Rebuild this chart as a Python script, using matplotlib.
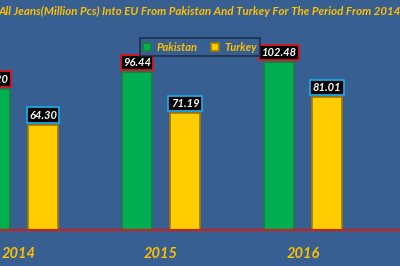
import matplotlib.pyplot as plt
import numpy as np

years = ["2014", "2015", "2016"]
pakistan = [86.20, 96.44, 102.48]
turkey = [64.30, 71.19, 81.01]

bg = "#375F91"
gold = "#FFC000"

fig = plt.figure(figsize=(4, 2.66), dpi=100, facecolor=bg)
ax = fig.add_axes([0, 0.135, 1, 0.865], facecolor=bg)

x = np.arange(len(years))
w = 0.211
off = 0.169
b1 = ax.bar(x - off, pakistan, w, color="#00B050", edgecolor="#1E7A45", linewidth=1.2, label="Pakistan")
b2 = ax.bar(x + off, turkey, w, color="#FFCC00", edgecolor="#A07A00", linewidth=1.2, label="Turkey")

# value labels: black boxes, red border for Pakistan, blue for Turkey
for bars, vals, ec in [(b1, pakistan, "#E0141E"), (b2, turkey, "#1BA6E0")]:
    for r, v in zip(bars, vals):
        ax.annotate(f"{v:.2f}", (r.get_x() + r.get_width() / 2, v), xytext=(0, 3),
                    textcoords="offset points", ha="center", va="bottom",
                    color="white", fontsize=8, fontweight="bold", fontstyle="italic",
                    family="Lato", annotation_clip=False,
                    bbox=dict(boxstyle="square,pad=0.2", fc="black", ec=ec, lw=1.3))

ax.set_xlim(-0.134, 2.683)
ax.set_ylim(0, 140.4)
ax.set_yticks([])
ax.set_xticks(x)
ax.set_xticklabels(years, color=gold, fontsize=10.5, fontweight="bold", fontstyle="italic", family="Lato")
ax.tick_params(axis="x", length=0, pad=12)
for s in ["top", "left", "right"]:
    ax.spines[s].set_visible(False)
ax.spines["bottom"].set_color("#D0201A")
ax.spines["bottom"].set_linewidth(1.5)

leg = ax.legend(loc="upper center", bbox_to_anchor=(0.5, 0.857), ncol=2, frameon=True,
                fancybox=False, handlelength=0.7, handleheight=0.7, columnspacing=1.2,
                handletextpad=0.5, borderpad=0.3,
                prop=dict(family="Lato", weight="bold", style="italic", size=8))
leg.get_frame().set_facecolor(bg)
leg.get_frame().set_edgecolor("#1A2E48")
leg.get_frame().set_linewidth(1.4)
for t in leg.get_texts():
    t.set_color(gold)

fig.text(-0.005, 0.955, "All Jeans(Million Pcs) Into EU From Pakistan And Turkey For The Period From 2014-2016",
         color=gold, fontsize=8.3, fontweight="bold", fontstyle="italic", family="Lato",
         ha="left", va="center")

fig.savefig("out.png", dpi=100, facecolor=bg)
